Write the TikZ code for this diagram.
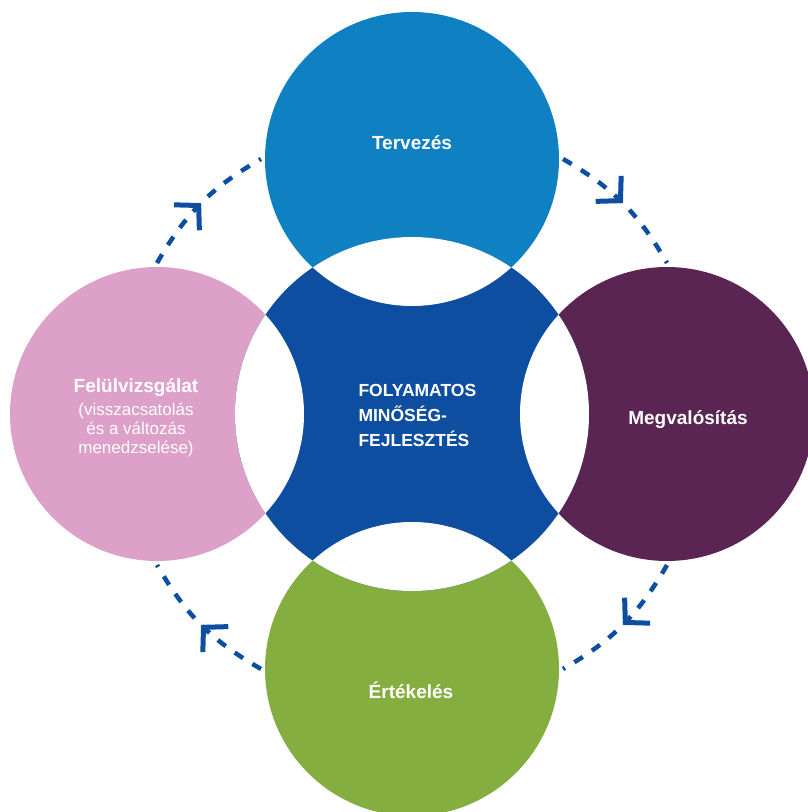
\documentclass[tikz,border=0pt]{standalone}
\usepackage{fontspec}
\setmainfont{Liberation Sans}
\usepackage{tikz}
\usetikzlibrary{positioning, arrows.meta, decorations.markings}

\definecolor{planblue}{HTML}{0F80C2}
\definecolor{actpurple}{HTML}{5A2552}
\definecolor{evalgreen}{HTML}{84AE3F}
\definecolor{reviewpink}{HTML}{DDA0C8}
\definecolor{coreblue}{HTML}{0D4EA0}

\begin{document}
\begin{tikzpicture}[x=1pt, y=1pt, node distance=255pt,
  stage/.style={circle, minimum size=294pt, inner sep=0pt, outer sep=4pt},
  stagetext/.style={text=white, align=center, font=\bfseries\fontsize{19}{23}\selectfont},
  flow/.style={draw=coreblue, line width=4.5pt, dash pattern=on 10pt off 11pt,
    postaction={decorate}, decoration={markings, mark=at position 0.5 with
    {\pgfsetdash{}{0pt}\arrow{Straight Barb[length=17pt, width=36pt, line width=5pt]}}}}]

\useasboundingbox (0,0) rectangle (807,812);

\coordinate (core) at (412,398);
\node[stage, fill=planblue] (plan) [above of=core] {};
\node[stage, fill=actpurple] (act) [right of=core] {};
\node[stage, fill=evalgreen] (eval) [below of=core] {};
\node[stage, fill=reviewpink] (review) [left of=core] {};

% central hub, white where the circles overlap it
\fill[coreblue] (core) circle (177);
\begin{scope}
  \clip (core) circle (177);
  \foreach \s in {plan, act, eval, review}
    \fill[white] (\s.center) circle (147);
\end{scope}

\node[stagetext] (plantext) at (412,669) {Tervezés};
\node[stagetext] (acttext) at (688,392) {Megvalósítás};
\node[stagetext] (evaltext) at (411,122) {Értékelés};
\node[stagetext, font=\fontsize{17}{19}\selectfont] (reviewtext) at (136,394)
  {{\bfseries\fontsize{19}{23}\selectfont Felülvizsgálat}\\[4pt]
   (visszacsatolás\\ és a változás\\ menedzselése)};
\node[text=white, align=left, anchor=west, font=\bfseries\fontsize{17.5}{25}\selectfont]
  (coretext) at (355,397) {FOLYAMATOS\\ MINŐSÉG-\\ FEJLESZTÉS};

\draw[flow] (review.north) to[bend left=15] (plan.west);
\draw[flow] (plan.east) to[bend left=15] (act.north);
\draw[flow] (act.south) to[bend left=15] (eval.east);
\draw[flow] (eval.west) to[bend left=15] (review.south);
\end{tikzpicture}
\end{document}
